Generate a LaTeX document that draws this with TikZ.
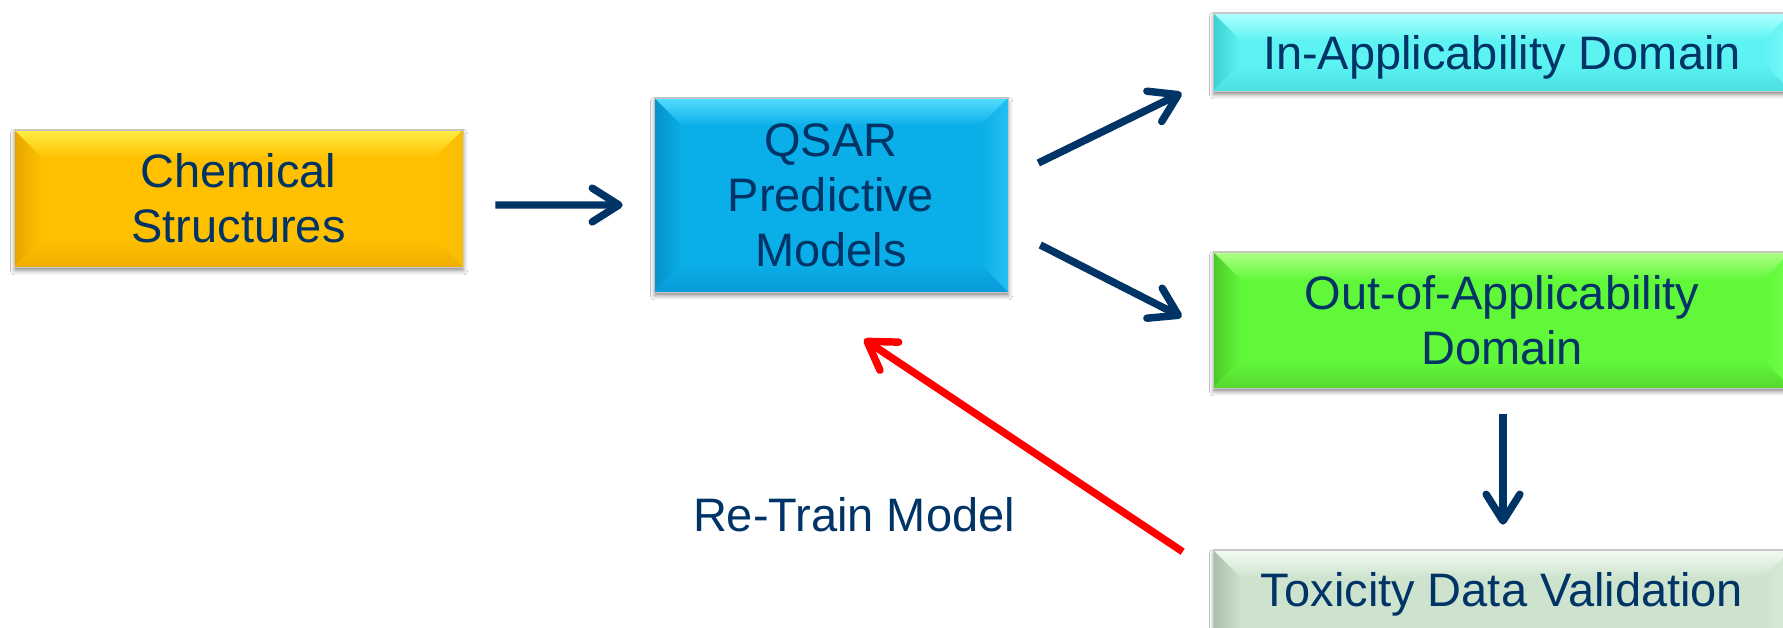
\documentclass[tikz,border=0pt]{standalone}
\usepackage{fontspec}
\setmainfont{Liberation Sans}
\usetikzlibrary{arrows.meta,shadows.blur}

\definecolor{navy}{HTML}{003366}
% face / top / left / right / bottom colours of each box
\definecolor{chemF}{HTML}{FFC000}\definecolor{chemT}{HTML}{FFEE44}
\definecolor{chemL}{HTML}{E6A600}\definecolor{chemR}{HTML}{F8BE00}\definecolor{chemB}{HTML}{EEAE00}
\definecolor{qsarF}{HTML}{0AAEE8}\definecolor{qsarT}{HTML}{55DDFF}
\definecolor{qsarL}{HTML}{0790C8}\definecolor{qsarR}{HTML}{22BFF2}\definecolor{qsarB}{HTML}{0A9AD8}
\definecolor{inF}{HTML}{5EF3F3}\definecolor{inT}{HTML}{B0FFFF}
\definecolor{inL}{HTML}{3CCFD2}\definecolor{inR}{HTML}{7AF8F8}\definecolor{inB}{HTML}{4CE0E0}
\definecolor{outF}{HTML}{62F83A}\definecolor{outT}{HTML}{B0FF88}
\definecolor{outL}{HTML}{4CC828}\definecolor{outR}{HTML}{70FF48}\definecolor{outB}{HTML}{55D830}
\definecolor{toxF}{HTML}{CEE3CE}\definecolor{toxT}{HTML}{F2FBF2}
\definecolor{toxL}{HTML}{A9BEA9}\definecolor{toxR}{HTML}{D8EBD8}\definecolor{toxB}{HTML}{BCD2BC}

% Bevelled box: #1,#2 top-left (px, y downwards), #3,#4 bottom-right,
% #5 colour prefix (F face, T top, L left, R right, B bottom)
\newcommand\bevelbox[5]{%
  \fill[boxshadow,#5F] (#1,-#2) rectangle (#3,-#4);
  \shade[top color=#5T, bottom color=#5F]
    (#1,-#2) -- (#3,-#2) -- (#3-28,-#2-28) -- (#1+28,-#2-28) -- cycle;
  \shade[left color=#5L, right color=#5F]
    (#1,-#2) -- (#1+28,-#2-28) -- (#1+28,-#4+28) -- (#1,-#4) -- cycle;
  \shade[left color=#5F, right color=#5R]
    (#3,-#2) -- (#3-28,-#2-28) -- (#3-28,-#4+28) -- (#3,-#4) -- cycle;
  \shade[top color=#5F, bottom color=#5B]
    (#1,-#4) -- (#1+28,-#4+28) -- (#3-28,-#4+28) -- (#3,-#4) -- cycle;
  \draw[black!22, line width=0.6pt] (#1,-#2) rectangle (#3,-#4);
}

\begin{document}
\begin{tikzpicture}[x=0.025cm, y=0.025cm,
  boxshadow/.style={blur shadow={shadow xshift=0.4pt, shadow yshift=-2.6pt,
      shadow blur radius=3pt, shadow opacity=45}},
  boxtext/.style={text=navy, align=center, inner sep=0pt,
      font=\fontsize{33.4pt}{39.1pt}\selectfont},
  flow/.style={draw=navy, line width=5.3pt,
      -{Straight Barb[length=19pt, width=24pt, round]}},
  feedback/.style={draw=red, line width=5.3pt,
      -{Straight Barb[length=19pt, width=24pt, round]}}]

\fill[white] (0,0) rectangle (1783,-628);
\useasboundingbox (0,0) rectangle (1783,-628);

% box faces
\bevelbox{14}{130}{463}{267}{chem}
\bevelbox{654}{98}{1008}{292}{qsar}
\bevelbox{1213}{13}{1791}{91}{in}
\bevelbox{1213}{252}{1791}{388}{out}
\bevelbox{1213}{550}{1791}{680}{tox}

% labelled boxes
\node[boxtext, minimum width=11.225cm, minimum height=3.425cm] (chem)
  at (238.5,-198.5) {Chemical\\Structures};
\node[boxtext, minimum width=8.85cm, minimum height=4.85cm] (qsar)
  at (831,-195) {QSAR\\Predictive\\Models};
\node[boxtext, minimum width=14.45cm, minimum height=1.95cm, text depth=0pt] (inapp)
  at (1502,-52) {In-Applicability Domain};
\node[boxtext, minimum width=14.45cm, minimum height=3.4cm] (outapp)
  at (1502,-320) {Out-of-Applicability\\Domain};
\node[boxtext, minimum width=14.45cm, minimum height=1.95cm, text depth=0pt] (tox)
  at (1502,-589) {Toxicity Data Validation};
\node[boxtext] (retrain) at (854,-532) [anchor=base] {Re-Train Model};

% connectors
\draw[flow] ([shift={(32,-6.5)}]chem.east) -- ([shift={(-31,-10)}]qsar.west);
\draw[flow] ([shift={(30,32)}]qsar.east) -- ([shift={(-31,-41)}]inapp.west);
\draw[flow] ([shift={(32,-50)}]qsar.east) -- ([shift={(-31,3)}]outapp.west);
\draw[flow] ([shift={(1,-26)}]outapp.south) -- ([shift={(1,25)}]tox.north);
\draw[feedback] ([shift={(-30,-2)}]tox.north west) -- ([shift={(33,-47)}]qsar.south);
\end{tikzpicture}
\end{document}
